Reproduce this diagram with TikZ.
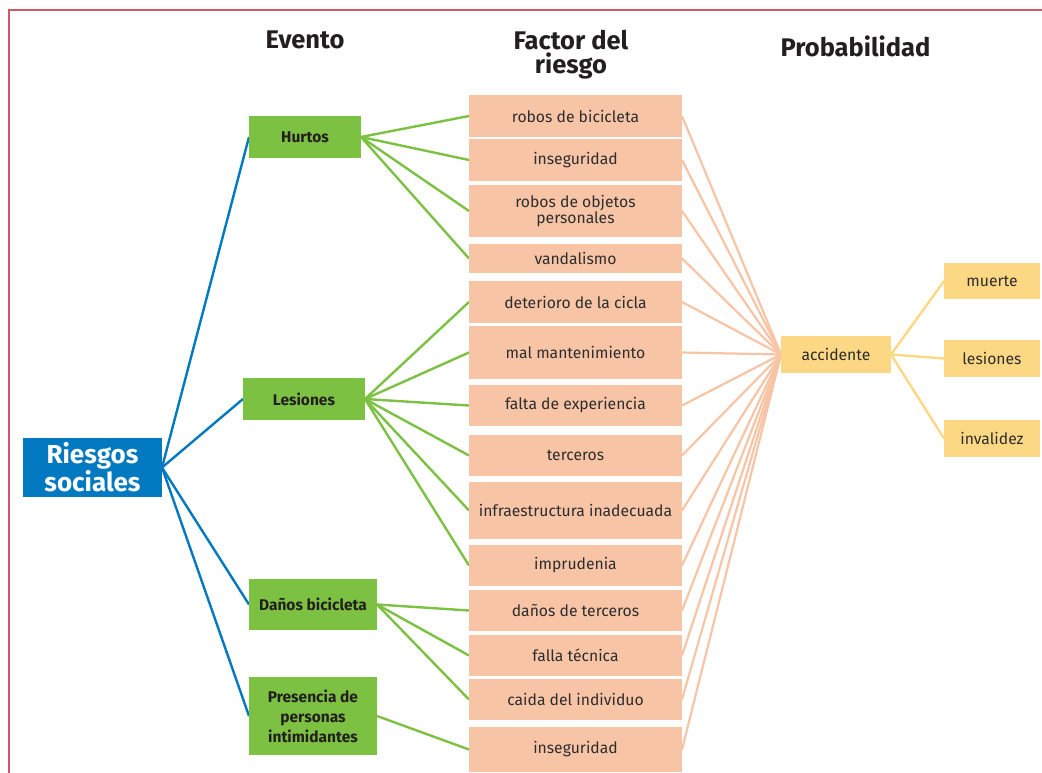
\documentclass[tikz,border=0pt]{standalone}
\usepackage{fontspec}
\setmainfont{Fira Sans}
\usetikzlibrary{backgrounds}
\definecolor{cblue}{RGB}{0,121,193}
\definecolor{cgreen}{RGB}{125,193,66}
\definecolor{csalmon}{RGB}{248,196,166}
\definecolor{cyellow}{RGB}{253,216,132}
\definecolor{cframe}{RGB}{205,90,100}
\definecolor{ctext}{RGB}{45,45,45}
\definecolor{ctitle}{RGB}{35,31,32}
\begin{document}
\begin{tikzpicture}[x=1pt,y=-1pt,
 box/.style={inner sep=0pt, outer sep=0pt, align=center, anchor=center},
 rootbox/.style={box, fill=cblue, text=white, font=\fontsize{26}{22}\selectfont\bfseries},
 eventbox/.style={box, fill=cgreen, text=ctitle, font=\fontsize{15.5}{20}\selectfont\bfseries},
 factorbox/.style={box, fill=csalmon, text=ctext, minimum width=213pt, font=\fontsize{15.7}{16}\selectfont},
 probbox/.style={box, fill=cyellow, text=ctext, font=\fontsize{15.7}{16}\selectfont},
 header/.style={text=ctitle, font=\fontsize{25.5}{24}\selectfont\bfseries, align=center, inner sep=0pt},
 bline/.style={cblue, line width=2.4pt},
 gline/.style={cgreen, line width=2.4pt},
 sline/.style={csalmon, line width=2.2pt},
 yline/.style={cyellow, line width=2.4pt},
 frameline/.style={cframe, line width=1.5pt}
]
\useasboundingbox (0,0) rectangle (1042,773);
% frame
\coordinate (ftr) at (1042,10);
\coordinate (ftl) at (9,10);
\coordinate (fbl) at (9,773);
\draw[frameline] (ftr) -- (ftl) -- (fbl);

% headers
\node[header, anchor=base] (hev) at (305,49) {Evento};
\node[header, anchor=north] (hfa) at (571,30) {Factor del\\riesgo};
\node[header, anchor=base] (hpr) at (855.5,57) {Probabilidad};

% root
\node[rootbox, minimum width=139pt, minimum height=59pt] (R) at (92.5,467.5) {Riesgos\\sociales};

% events
\node[eventbox, minimum width=112pt, minimum height=42pt] (H) at (305,137) {Hurtos};
\node[eventbox, minimum width=122pt, minimum height=42pt] (L) at (304,399) {Lesiones};
\node[eventbox, minimum width=128pt, minimum height=51pt] (D) at (313,604.5) {Daños bicicleta};
\node[eventbox, minimum width=128pt, minimum height=78pt] (P) at (313,716) {Presencia de\\personas\\intimidantes};

% factors
\node[factorbox, minimum height=42pt] (f1) at (575.5,116) {robos de bicicleta};
\node[factorbox, minimum height=42pt] (f2) at (575.5,160) {inseguridad};
\node[factorbox, minimum height=52pt] (f3) at (575.5,211) {robos de objetos\\personales};
\node[factorbox, minimum height=29pt] (f4) at (575.5,258.5) {vandalismo};
\node[factorbox, minimum height=42pt] (f5) at (575.5,302) {deterioro de la cicla};
\node[factorbox, minimum height=53pt] (f6) at (575.5,352.5) {mal mantenimiento};
\node[factorbox, minimum height=41pt] (f7) at (575.5,405.5) {falta de experiencia};
\node[factorbox, minimum height=41pt] (f8) at (575.5,455.5) {terceros};
\node[factorbox, minimum height=57pt] (f9) at (575.5,510.5) {infraestructura inadecuada};
\node[factorbox, minimum height=41pt] (f10) at (575.5,565.5) {imprudenia};
\node[factorbox, minimum height=41pt] (f11) at (575.5,610.5) {daños de terceros};
\node[factorbox, minimum height=41pt] (f12) at (575.5,655.5) {falla técnica};
\node[factorbox, minimum height=41pt] (f13) at (575.5,699.5) {caida del individuo};
\node[factorbox, minimum height=45pt] (f14) at (575.5,749.5) {inseguridad};

% probability
\node[probbox, minimum width=110pt, minimum height=37pt] (A) at (836,354.5) {accidente};
\node[probbox, minimum width=96pt, minimum height=36pt] (M) at (992,281) {muerte};
\node[probbox, minimum width=96pt, minimum height=37pt] (Ls) at (992,358.5) {lesiones};
\node[probbox, minimum width=96pt, minimum height=37pt] (I) at (992,438.5) {invalidez};

\begin{pgfonlayer}{background}
 \foreach \t in {H,L,D,P} \draw[bline] (R.east) -- (\t.west);
 \foreach \t in {f1,f2,f3,f4} \draw[gline] (H.east) -- (\t.west);
 \foreach \t in {f5,f6,f7,f8,f9,f10} \draw[gline] (L.east) -- (\t.west);
 \foreach \t in {f11,f12,f13} \draw[gline] (D.east) -- (\t.west);
 \draw[gline] (P.east) -- (f14.west);
 \foreach \t in {f1,f2,f3,f4,f5,f6,f7,f8,f9,f10,f11,f12,f13,f14} \draw[sline] (\t.east) -- (A.west);
 \foreach \t in {M,Ls,I} \draw[yline] (A.east) -- (\t.west);
\end{pgfonlayer}
\end{tikzpicture}
\end{document}
